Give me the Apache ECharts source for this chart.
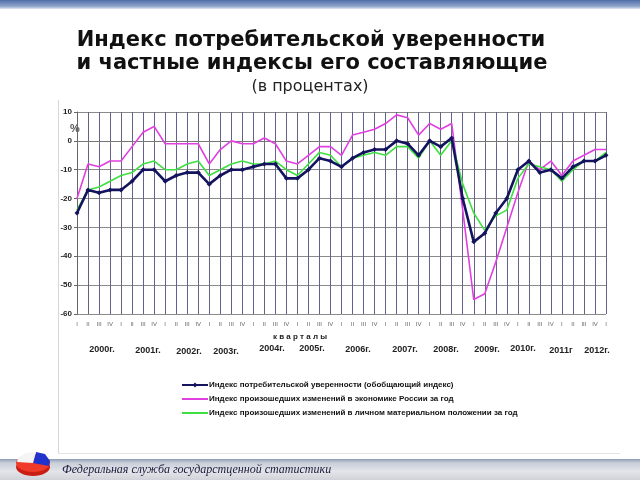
<!DOCTYPE html>
<html>
<head>
<meta charset="utf-8">
<script src="https://cdn.jsdelivr.net/npm/echarts@6/dist/echarts.min.js"></script>
<style>
html,body{margin:0;padding:0;background:#fff;}
#chart{width:640px;height:480px;}
</style>
</head>
<body>
<div id="chart"></div>
<script>
// ---- data ----
const quarterNames = ['I', 'II', 'III', 'IV'];
const years = ['2000г.', '2001г.', '2002г.', '2003г.', '2004г.', '2005г.', '2006г.', '2007г.', '2008г.', '2009г.', '2010г.', '2011г', '2012г.'];
const yTicks = [10, 0, -10, -20, -30, -40, -50, -60];

const seriesNames = [
  'Индекс потребительской уверенности (обобщающий индекс)',
  'Индекс произошедших изменений в экономике России за год',
  'Индекс произошедших изменений в личном материальном положении за год'
];

const consumerIndex = [-25, -17, -18, -17, -17, -14, -10, -10, -14, -12, -11, -11, -15, -12, -10, -10, -9, -8, -8, -13, -13, -10, -6, -7, -9, -6, -4, -3, -3, 0, -1, -5, 0, -2, 1, -20, -35, -32, -25, -20, -10, -7, -11, -10, -13, -9, -7, -7, -5];
const economyIndex = [-20, -8, -9, -7, -7, -2, 3, 5, -1, -1, -1, -1, -8, -3, 0, -1, -1, 1, -1, -7, -8, -5, -2, -2, -5, 2, 3, 4, 6, 9, 8, 2, 6, 4, 6, -24, -55, -53, -42, -30, -18, -7, -10, -7, -12, -7, -5, -3, -3];
const personalIndex = [-24, -17, -16, -14, -12, -11, -8, -7, -10, -10, -8, -7, -12, -10, -8, -7, -8, -8, -7, -10, -12, -8, -4, -5, -9, -6, -5, -4, -5, -2, -2, -6, 0, -5, 0, -15, -25, -31, -26, -24, -13, -8, -9, -10, -14, -10, -7, -7, -4];

// year label x positions (approximate placement under the axis as in the source)
const yearLabelX = [102, 148, 189, 226, 272, 312, 358, 405, 446, 487, 523, 561, 597];
const yearLabelY = [350, 351, 352, 352, 349, 349, 350, 350, 350, 350, 349, 351, 351];

// build categories: 2000 I ... 2012 I
const categories = [];
for (let y = 0; y < years.length; y++) {
  for (let q = 0; q < 4; q++) {
    if (y === years.length - 1 && q > 0) break;
    categories.push(quarterNames[q]);
  }
}

const chart = echarts.init(document.getElementById('chart'), null, {renderer: 'canvas'});

const graphics = [
  // top band
  {type: 'rect', shape: {x: 0, y: 0, width: 640, height: 9},
   style: {fill: new echarts.graphic.LinearGradient(0, 0, 0, 1, [
     {offset: 0, color: '#4f6ea8'}, {offset: 0.7, color: '#8fa5cc'}, {offset: 1, color: '#dfe6f2'}])}, silent: true},
  // title
  {type: 'text', x: 311, y: 30, style: {text: 'Индекс потребительской уверенности', font: 'bold 21px "DejaVu Sans"', fill: '#111', textAlign: 'center'}},
  {type: 'text', x: 312, y: 53, style: {text: 'и частные индексы его составляющие', font: 'bold 21px "DejaVu Sans"', fill: '#111', textAlign: 'center'}},
  {type: 'text', x: 310, y: 79, style: {text: '(в процентах)', font: '16px "DejaVu Sans"', fill: '#222', textAlign: 'center'}},
  // frame lines of the chart box
  {type: 'line', shape: {x1: 58.5, y1: 100, x2: 58.5, y2: 453}, style: {stroke: '#d6d6d6', lineWidth: 1}, silent: true},
  {type: 'line', shape: {x1: 58, y1: 453.5, x2: 620, y2: 453.5}, style: {stroke: '#e4e4e4', lineWidth: 1}, silent: true},
  // % sign
  {type: 'text', x: 70, y: 123, style: {text: '%', font: 'bold 11px "Liberation Sans"', fill: '#555'}},
  // кварталы
  {type: 'text', x: 300, y: 337, style: {text: 'к в а р т а л ы', font: 'bold 8px "Liberation Sans"', fill: '#222', textAlign: 'center', textVerticalAlign: 'middle'}},
  // footer band
  {type: 'rect', shape: {x: 0, y: 459, width: 640, height: 21},
   style: {fill: new echarts.graphic.LinearGradient(0, 0, 0, 1, [
     {offset: 0, color: '#8d9bb8'}, {offset: 0.18, color: '#c9ced8'}, {offset: 0.6, color: '#e3e5ea'}, {offset: 1, color: '#cfd2d8'}])}, silent: true},
  {type: 'text', x: 62, y: 470, style: {text: 'Федеральная служба государстценной статистики', font: 'italic 12px "Liberation Serif"', fill: '#1a1a3a', textVerticalAlign: 'middle'}},
  // logo (pie)
  {type: 'ellipse', shape: {cx: 33, cy: 467, rx: 17, ry: 9}, style: {fill: '#c81e14'}, silent: true},
  {type: 'ellipse', shape: {cx: 33, cy: 463, rx: 17, ry: 9}, style: {fill: '#f03a2a'}, silent: true},
  {type: 'polygon', shape: {points: [[33, 463], [36, 452], [45, 454], [50, 461], [49, 466]]}, style: {fill: '#2233cc'}, silent: true},
  {type: 'polygon', shape: {points: [[33, 463], [36, 452], [26, 453], [18, 458], [17, 462]]}, style: {fill: '#f4f4f4'}, silent: true}
];

years.forEach((t, i) => {
  graphics.push({type: 'text', x: yearLabelX[i], y: yearLabelY[i],
    style: {text: t, font: 'bold 9px "Liberation Sans"', fill: '#222', textAlign: 'center', textVerticalAlign: 'middle'}});
});

const option = {
  animation: false,
  backgroundColor: '#fff',
  grid: {left: 77, right: 34, top: 112, bottom: 166, containLabel: false},
  legend: {
    orient: 'vertical', left: 176, top: 376, itemGap: 6, itemWidth: 26, itemHeight: 6,
    textStyle: {fontFamily: 'Liberation Sans', fontSize: 8, fontWeight: 'bold', color: '#111', padding: [0, 0, 0, -4]},
    data: [
      {name: seriesNames[0]},
      {name: seriesNames[1], itemStyle: {opacity: 0}},
      {name: seriesNames[2], itemStyle: {opacity: 0}}
    ]
  },
  xAxis: {
    type: 'category', data: categories, boundaryGap: false,
    axisLine: {lineStyle: {color: '#777', width: 1}},
    axisTick: {show: true, length: 4, lineStyle: {color: '#777'}},
    axisLabel: {interval: 0, fontSize: 6, color: '#666', margin: 7, fontFamily: 'Liberation Sans'},
    splitLine: {show: true, interval: 0, lineStyle: {color: '#62628c', width: 1}}
  },
  yAxis: {
    type: 'value', min: -60, max: 10, interval: 10,
    axisLine: {show: true, lineStyle: {color: '#666'}},
    axisTick: {show: true, length: 3, lineStyle: {color: '#666'}},
    axisLabel: {fontSize: 8, fontWeight: 'bold', color: '#222', fontFamily: 'Liberation Sans', margin: 5,
      formatter: v => (yTicks.indexOf(v) >= 0 ? String(v) : '')},
    splitLine: {show: true, lineStyle: {color: '#8a8a8a', width: 1}}
  },
  series: [
    {name: seriesNames[1], type: 'line', data: economyIndex, symbol: 'none',
     lineStyle: {color: '#e040e0', width: 1.6}, itemStyle: {color: '#e040e0'}, z: 2},
    {name: seriesNames[2], type: 'line', data: personalIndex, symbol: 'none',
     lineStyle: {color: '#3ee040', width: 1.6}, itemStyle: {color: '#3ee040'}, z: 3},
    {name: seriesNames[0], type: 'line', data: consumerIndex, symbol: 'diamond', symbolSize: 5,
     lineStyle: {color: '#14145e', width: 2.6}, itemStyle: {color: '#14145e'}, z: 4}
  ],
  graphic: graphics
};

chart.setOption(option);
</script>
</body>
</html>
